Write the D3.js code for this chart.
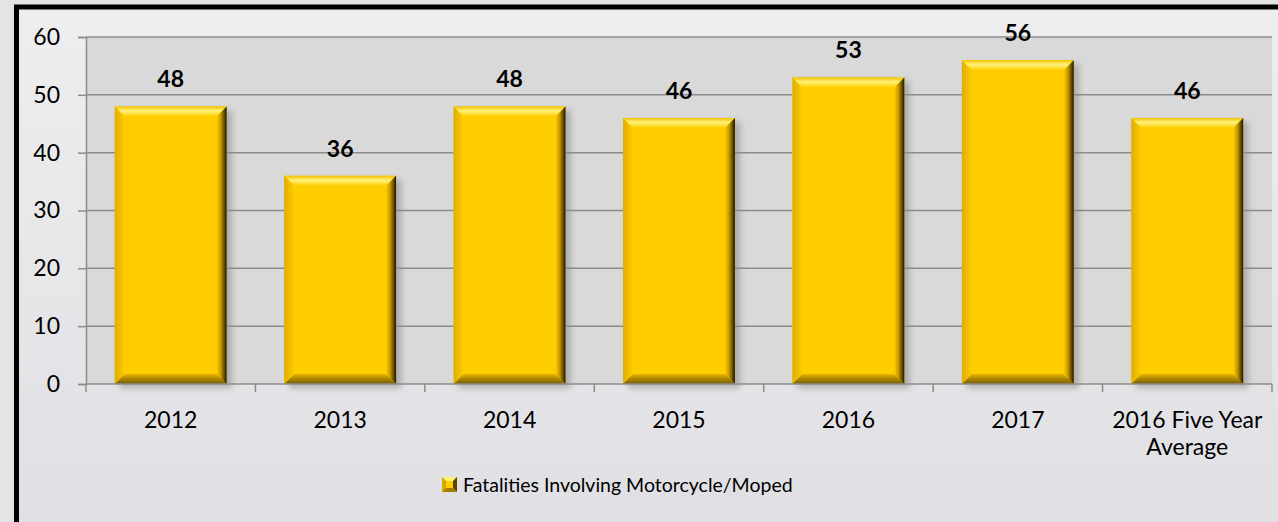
<!DOCTYPE html>
<html lang="en">
<head>
    <meta charset="UTF-8">
    <title>Fatalities Involving Motorcycle/Moped</title>
    <script src="https://d3js.org/d3.v7.min.js"></script>
    <style>
        html, body { margin: 0; padding: 0; background: #e4e4e7; }
        svg { display: block; font-family: Lato, "Open Sans", sans-serif; }
    </style>
</head>
<body>
    <svg width="1278" height="522"></svg>
    <script>
        // data
        const categories = ["2012", "2013", "2014", "2015", "2016", "2017", "2016 Five Year Average"];
        const values = [48, 36, 48, 46, 53, 56, 46];
        const yTicks = [0, 10, 20, 30, 40, 50, 60];
        const seriesName = "Fatalities Involving Motorcycle/Moped";

        const W = 1278, H = 522;
        const plot = { left: 86, right: 1272, top: 37, bottom: 384 };
        const bevel = 10;

        const svg = d3.select("svg");
        const defs = svg.append("defs");

        // background gradient
        const bg = defs.append("linearGradient").attr("id", "bg")
            .attr("x1", 0).attr("y1", 0).attr("x2", 0).attr("y2", 1);
        bg.append("stop").attr("offset", "0%").attr("stop-color", "#eeeef0");
        bg.append("stop").attr("offset", "100%").attr("stop-color", "#e0e0e4");

        function grad(id, horizontal, stops) {
            const g = defs.append("linearGradient").attr("id", id)
                .attr("x1", 0).attr("y1", 0)
                .attr("x2", horizontal ? 1 : 0).attr("y2", horizontal ? 0 : 1);
            stops.forEach(s => g.append("stop").attr("offset", s[0]).attr("stop-color", s[1]));
        }
        grad("bevTop", false, [["0%", "#f2c200"], ["45%", "#fff27a"], ["100%", "#ffcf00"]]);
        grad("bevRight", true, [["0%", "#ffcc00"], ["40%", "#c99a00"], ["80%", "#5a4500"], ["100%", "#1a1400"]]);
        grad("bevBottom", false, [["0%", "#e8b400"], ["60%", "#a07c00"], ["100%", "#7a5e00"]]);
        grad("bevLeft", true, [["0%", "#e0ad00"], ["100%", "#ffcc00"]]);

        const blur = defs.append("filter").attr("id", "shadow")
            .attr("x", "-20%").attr("y", "-20%").attr("width", "140%").attr("height", "140%");
        blur.append("feGaussianBlur").attr("stdDeviation", 3);

        svg.append("rect").attr("width", W).attr("height", H).attr("fill", "#e4e4e7");
        svg.append("rect").attr("x", 16).attr("y", 7).attr("width", W).attr("height", H)
            .attr("fill", "url(#bg)");
        // outer frame, only top and left visible
        svg.append("rect").attr("x", 16.5).attr("y", 7).attr("width", W + 20).attr("height", H + 20)
            .attr("fill", "none").attr("stroke", "#000").attr("stroke-width", 5);

        const x = d3.scaleBand().domain(categories)
            .range([plot.left, plot.right])
            .paddingInner(0.34).paddingOuter(0.17);
        const y = d3.scaleLinear().domain([0, 60]).range([plot.bottom, plot.top]);

        // plot area
        svg.append("rect")
            .attr("x", plot.left).attr("y", plot.top)
            .attr("width", plot.right - plot.left).attr("height", plot.bottom - plot.top)
            .attr("fill", "#d9d9d9");

        svg.append("g").selectAll("line")
            .data(yTicks.filter(d => d > 0))
            .join("line")
            .attr("x1", plot.left).attr("x2", plot.right)
            .attr("y1", d => y(d)).attr("y2", d => y(d))
            .attr("stroke", "#8c8c8c").attr("stroke-width", 1.5);

        // y axis
        const yAxis = svg.append("g")
            .attr("transform", `translate(${plot.left},0)`)
            .call(d3.axisLeft(y).tickValues(yTicks).tickSize(8).tickPadding(18));
        yAxis.select(".domain").attr("stroke", "#8c8c8c").attr("stroke-width", 1.5);
        yAxis.selectAll(".tick line").attr("stroke", "#8c8c8c").attr("stroke-width", 1.5);
        yAxis.selectAll(".tick text")
            .attr("font-size", 23).attr("fill", "#000")
            .attr("font-family", "Lato, sans-serif");

        // bars
        const bars = svg.append("g").selectAll("g")
            .data(values.map((v, i) => ({ cat: categories[i], v })))
            .join("g");

        bars.append("rect")
            .attr("x", d => x(d.cat) + 5)
            .attr("y", d => y(d.v) + 4)
            .attr("width", x.bandwidth())
            .attr("height", d => y(0) - y(d.v))
            .attr("fill", "#8a8a8a").attr("opacity", 0.6)
            .attr("filter", "url(#shadow)");

        bars.append("rect")
            .attr("x", d => x(d.cat))
            .attr("y", d => y(d.v))
            .attr("width", x.bandwidth())
            .attr("height", d => y(0) - y(d.v))
            .attr("fill", "#ffcc00");

        function poly(pts) { return "M" + pts.map(p => p.join(",")).join("L") + "Z"; }

        bars.append("path").attr("fill", "url(#bevLeft)")
            .attr("d", d => {
                const x0 = x(d.cat), y0 = y(d.v), y1 = y(0);
                return poly([[x0, y0], [x0 + bevel, y0 + bevel], [x0 + bevel, y1 - bevel], [x0, y1]]);
            });
        bars.append("path").attr("fill", "url(#bevTop)")
            .attr("d", d => {
                const x0 = x(d.cat), x1 = x0 + x.bandwidth(), y0 = y(d.v);
                return poly([[x0, y0], [x1, y0], [x1 - bevel, y0 + bevel], [x0 + bevel, y0 + bevel]]);
            });
        bars.append("path").attr("fill", "url(#bevBottom)")
            .attr("d", d => {
                const x0 = x(d.cat), x1 = x0 + x.bandwidth(), y1 = y(0);
                return poly([[x0, y1], [x0 + bevel, y1 - bevel], [x1 - bevel, y1 - bevel], [x1, y1]]);
            });
        bars.append("path").attr("fill", "url(#bevRight)")
            .attr("d", d => {
                const x1 = x(d.cat) + x.bandwidth(), y0 = y(d.v), y1 = y(0);
                return poly([[x1, y0], [x1, y1], [x1 - bevel, y1 - bevel], [x1 - bevel, y0 + bevel]]);
            });

        bars.append("text")
            .attr("x", d => x(d.cat) + x.bandwidth() / 2)
            .attr("y", d => y(d.v) - 19)
            .attr("text-anchor", "middle")
            .attr("font-size", 23).attr("font-weight", "bold")
            .text(d => d.v);

        // x axis
        svg.append("line")
            .attr("x1", plot.left).attr("x2", plot.right)
            .attr("y1", plot.bottom).attr("y2", plot.bottom)
            .attr("stroke", "#8c8c8c").attr("stroke-width", 1.5);
        const step = x.step();
        const edges = d3.range(categories.length + 1).map(i => plot.left + i * step);
        svg.append("g").selectAll("line").data(edges).join("line")
            .attr("x1", d => d).attr("x2", d => d)
            .attr("y1", plot.bottom).attr("y2", plot.bottom + 8)
            .attr("stroke", "#8c8c8c").attr("stroke-width", 1.5);

        const xLabelLines = { "2016 Five Year Average": ["2016 Five Year", "Average"] };
        const xl = svg.append("g").selectAll("text").data(categories).join("text")
            .attr("text-anchor", "middle")
            .attr("font-size", 23)
            .attr("x", d => x(d) + x.bandwidth() / 2)
            .attr("y", 428);
        xl.each(function (d) {
            const lines = xLabelLines[d] || [d];
            d3.select(this).selectAll("tspan").data(lines).join("tspan")
                .attr("x", x(d) + x.bandwidth() / 2)
                .attr("dy", (t, i) => i === 0 ? 0 : 27)
                .text(t => t);
        });

        // legend
        const lg = svg.append("g").attr("transform", "translate(442,477)");
        lg.append("rect").attr("width", 15).attr("height", 15).attr("fill", "#ffcc00");
        lg.append("path").attr("d", "M0,0L15,0L11,4L4,4Z").attr("fill", "#fff27a");
        lg.append("path").attr("d", "M15,0L15,15L11,11L11,4Z").attr("fill", "#5a4500");
        lg.append("path").attr("d", "M0,15L15,15L11,11L4,11Z").attr("fill", "#a07c00");
        lg.append("path").attr("d", "M0,0L4,4L4,11L0,15Z").attr("fill", "#d9a600");
        lg.append("text").attr("x", 21).attr("y", 15)
            .attr("font-size", 19.5).text(seriesName);
    </script>
</body>
</html>
